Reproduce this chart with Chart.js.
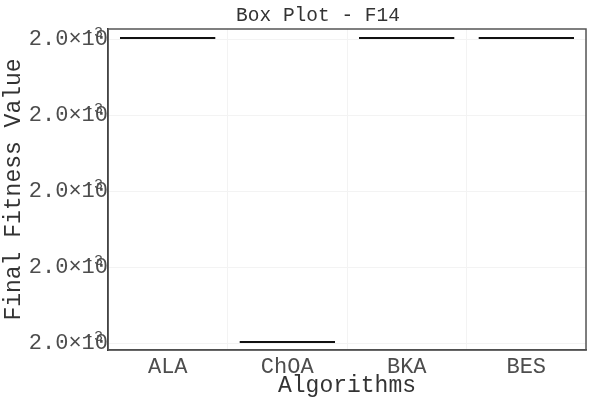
<!DOCTYPE html>
<html>
<head>
<meta charset="utf-8">
<script src="https://cdn.jsdelivr.net/npm/chart.js@4/dist/chart.umd.min.js"></script>
<style>
  html, body { margin: 0; padding: 0; background: #fff; }
  #wrap { width: 600px; height: 400px; }
</style>
</head>
<body>
<div id="wrap"><canvas id="boxChart" width="600" height="400"></canvas></div>
<script>
// Data (final fitness values, all ~2.0e-3)
const algorithms = ["ALA", "ChOA", "BKA", "BES"]
const q1Values = [0.00200000000, 0.00199996000, 0.00200000000, 0.00200000000]
const q3Values = [0.00200000000, 0.00199996020, 0.00200000000, 0.00200000000]
const boxColors = ["#0b2a3c", "#4a1010", "#0f2f14", "#2a1234"]
const tickValues = [0.00199996, 0.00199997, 0.00199998, 0.00199999, 0.00200000]
const tickText = "2.0×10"
const tickExp = "-3"
const chartTitle = "Box Plot - F14"

const FONT = "'Liberation Mono', 'DejaVu Sans Mono', monospace"

// draws the broken superscript of the y tick labels
const superscriptPlugin = {
  id: "superscript",
  afterDraw(chart) {
    const y = chart.scales.y
    const ctx = chart.ctx
    ctx.save()
    ctx.fillStyle = "#4d4d4d"
    ctx.font = "15px " + FONT
    ctx.textAlign = "left"
    ctx.textBaseline = "alphabetic"
    y.ticks.forEach((t) => {
      const py = y.getPixelForValue(t.value)
      ctx.fillText(tickExp, 85, py - 2)
    })
    ctx.restore()
  },
}

// panel border + title (title sits off-centre like the original)
const borderPlugin = {
  id: "panelBorder",
  afterDatasetsDraw(chart) {
    const a = chart.chartArea
    const ctx = chart.ctx
    ctx.save()
    ctx.strokeStyle = "#555"
    ctx.lineWidth = 1.5
    ctx.strokeRect(a.left, a.top, a.right - a.left, a.bottom - a.top)
    ctx.fillStyle = "#333"
    ctx.font = "19.5px " + FONT
    ctx.textAlign = "center"
    ctx.textBaseline = "alphabetic"
    ctx.fillText(chartTitle, 318, 21)
    ctx.restore()
  },
}

new Chart(document.getElementById("boxChart"), {
  type: "bar",
  data: {
    labels: algorithms,
    datasets: [
      {
        data: algorithms.map((_, i) => [q1Values[i], q3Values[i]]),
        backgroundColor: boxColors,
        borderColor: "#111",
        borderWidth: 1,
        borderSkipped: false,
        minBarLength: 2,
        barPercentage: 0.8,
        categoryPercentage: 1,
      },
    ],
  },
  options: {
    responsive: false,
    animation: false,
    layout: { padding: { left: 0, right: 14, top: 29, bottom: 0 } },
    plugins: {
      legend: { display: false },
      tooltip: { enabled: false },
      title: { display: false },
    },
    scales: {
      x: {
        grid: { color: "#f3f3f3", drawTicks: false },
        border: { color: "#444", width: 1.5 },
        ticks: {
          color: "#4d4d4d",
          font: { family: FONT, size: 22 },
          padding: 4,
          maxRotation: 0,
        },
        title: {
          display: true,
          text: "Algorithms",
          color: "#333",
          font: { family: FONT, size: 23 },
          padding: { top: 0, bottom: 0 },
        },
        afterFit: (scale) => { scale.height = 50 },
      },
      y: {
        min: 0.00199995908,
        max: 0.002000001316,
        afterBuildTicks: (scale) => {
          scale.ticks = tickValues.map((v) => ({ value: v }))
        },
        grid: { color: "#f3f3f3", drawTicks: false },
        border: { color: "#111", width: 1.5 },
        ticks: {
          color: "#4d4d4d",
          font: { family: FONT, size: 22 },
          padding: 0,
          callback: () => tickText,
        },
        title: {
          display: true,
          text: "Final Fitness Value",
          color: "#333",
          font: { family: FONT, size: 23 },
          padding: { top: 0, bottom: 0 },
        },
        afterFit: (scale) => { scale.width = 108 },
      },
    },
  },
  plugins: [superscriptPlugin, borderPlugin],
})
</script>
</body>
</html>
